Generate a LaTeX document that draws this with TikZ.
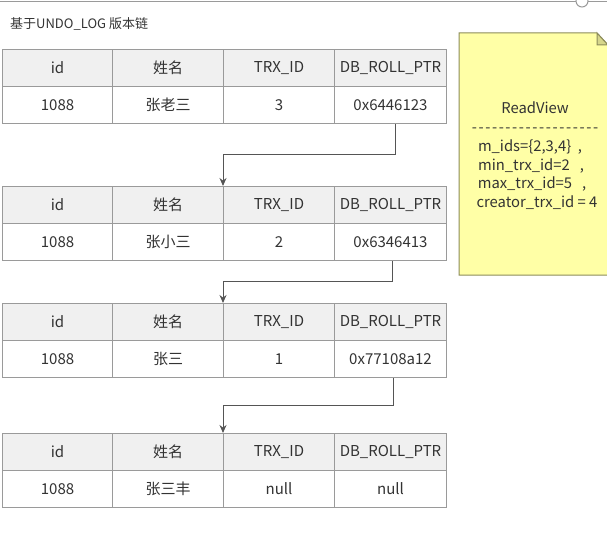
\documentclass[tikz,border=0pt]{standalone}
\usepackage{fontspec}
\setmainfont{Noto Sans CJK SC}
\usetikzlibrary{arrows.meta}
\definecolor{gridc}{HTML}{9A9A9A}
\definecolor{headc}{HTML}{F0F0F0}
\definecolor{notec}{HTML}{FFFFA6}
\definecolor{noteb}{HTML}{8C8C5A}
\definecolor{foldc}{HTML}{D6D68C}
\definecolor{arrc}{HTML}{555555}
\definecolor{txtc}{HTML}{333333}
\newcommand{\hy}{-\kern1.6pt}
\tikzset{
  cell/.style={draw=gridc, line width=1pt, anchor=north west, inner sep=0pt,
    minimum height=37pt, text=txtc, font=\fontsize{15}{17}\selectfont},
  hcell/.style={cell, fill=headc},
  dcell/.style={cell, fill=white},
  arr/.style={draw=arrc, line width=1pt, -{Stealth[length=8pt,width=7pt]}},
  notetxt/.style={text=txtc, font=\fontsize{14.8}{17}\selectfont, inner sep=0pt}
}
\newcommand{\undotable}[5]{%
  \node[hcell, minimum width=110pt] (#1hi) at (2,#2) {id};
  \node[hcell, minimum width=111pt] (#1hn) at (112,#2) {姓名};
  \node[hcell, minimum width=111pt] (#1ht) at (223,#2) {TRX\_ID};
  \node[hcell, minimum width=112pt] (#1hp) at (334,#2) {DB\_ROLL\_PTR};
  \node[dcell, minimum width=110pt] (#1di) at (2,#2+37) {1088};
  \node[dcell, minimum width=111pt] (#1dn) at (112,#2+37) {#3};
  \node[dcell, minimum width=111pt] (#1dt) at (223,#2+37) {#4};
  \node[dcell, minimum width=112pt] (#1dp) at (334,#2+37) {#5};
}
\begin{document}
\begin{tikzpicture}[x=1pt,y=-1pt]
\useasboundingbox (0,0) rectangle (607,543);
% top frame line with handle
\draw[gridc, line width=1pt] (0,1.5) -- (607,1.5);
\node[circle, draw=gridc, fill=white, line width=1pt, minimum size=12pt, inner sep=0pt] (handle) at (582,1) {};
% title
\node[anchor=west, text=txtc, font=\fontsize{13}{15}\selectfont, inner sep=0pt] (title) at (10,24) {基于UNDO\_LOG 版本链};
% tables
\undotable{a}{49}{张老三}{3}{0x6446123}
\undotable{b}{186}{张小三}{2}{0x6346413}
\undotable{c}{303}{张三}{1}{0x77108a12}
\undotable{d}{433}{张三丰}{null}{null}
% elbows
\coordinate (e1) at (395,154);
\coordinate (e2) at (392,281);
\coordinate (e3) at (393,405);
\draw[arr] (adp.south -| e1) |- (e1) -| (bht.north west);
\draw[arr] (bdp.south -| e2) |- (e2) -| (cht.north west);
\draw[arr] (cdp.south -| e3) |- (e3) -| (dht.north west);
% ReadView note
\path[fill=notec, draw=noteb, line width=1pt] (459,33) -- (597,33) -- (608,45) -- (608,275) -- (459,275) -- cycle;
\path[fill=foldc, draw=noteb, line width=1pt] (597,33) -- (597,45) -- (608,45) -- cycle;
\node[notetxt] (rv) at (535,108) {ReadView};
\node[notetxt] (rvd) at (535,130) {\hy\hy\hy\hy\hy\hy\hy\hy\hy\hy\hy\hy\hy\hy\hy\hy\hy\hy-};
\node[notetxt] (l1) at (530,147) {m\_ids=\{2,3,4\}\ \ ,};
\node[notetxt] (l2) at (531,166) {min\_trx\_id=2\ \ \ ,};
\node[notetxt] (l3) at (532,184) {max\_trx\_id=5\ \ \ ,};
\node[notetxt] (l4) at (537,203) {creator\_trx\_id = 4};
\end{tikzpicture}
\end{document}
